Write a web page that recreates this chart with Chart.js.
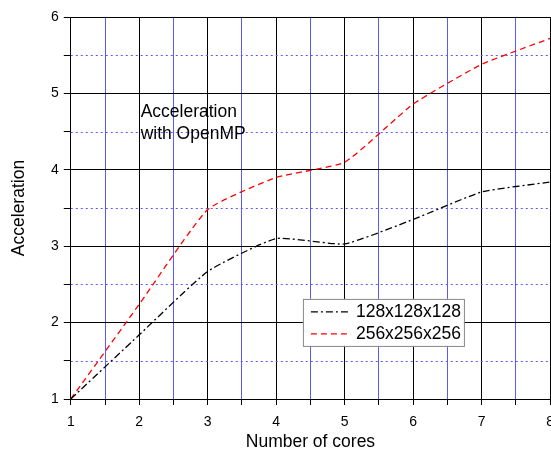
<!DOCTYPE html>
<html>
<head>
<meta charset="utf-8">
<script src="https://cdn.jsdelivr.net/npm/chart.js@4.4.1/dist/chart.umd.min.js"></script>
<style>
  html, body { margin: 0; padding: 0; background: #fff; overflow: hidden; }
  #chart { display: block; }
</style>
</head>
<body>
<canvas id="chart" width="563" height="455"></canvas>
<script>
// Data
const cores = [1, 2, 3, 4, 5, 6, 7, 8];
const accel128 = [1.0, 1.84, 2.67, 3.10, 3.03, 3.35, 3.71, 3.84];
const accel256 = [1.0, 2.24, 3.48, 3.90, 4.10, 4.86, 5.38, 5.72];
const seriesLabels = ['128x128x128', '256x256x256'];
const noteLines = ['Acceleration', 'with OpenMP'];

const FONT = "'Liberation Sans', Arial, sans-serif";
const BLUE = '#5a5aff';

// Dotted horizontal half-unit lines and the text note
const extrasPlugin = {
    id: 'extras',
    beforeDatasetsDraw(chart) {
        const { ctx, chartArea, scales } = chart;
        ctx.save();
        ctx.strokeStyle = BLUE;
        ctx.lineWidth = 1;
        ctx.setLineDash([2, 3]);
        for (let v = 1.5; v < 6; v += 1) {
            const y = Math.round(scales.y.getPixelForValue(v)) + 0.5;
            ctx.beginPath();
            ctx.moveTo(chartArea.left, y);
            ctx.lineTo(chartArea.right, y);
            ctx.stroke();
        }
        ctx.restore();
    },
    afterDatasetsDraw(chart) {
        const { ctx, scales } = chart;
        ctx.save();
        ctx.font = '17.5px ' + FONT;
        ctx.fillStyle = '#000';
        ctx.textBaseline = 'middle';
        const x = scales.x.getPixelForValue(2.02);
        const y0 = scales.y.getPixelForValue(4.75);
        noteLines.forEach((t, i) => ctx.fillText(t, x, y0 + i * 22));
        ctx.restore();
    }
};

// Boxed legend inside the plot
const legendBoxPlugin = {
    id: 'legendBox',
    afterDatasetsDraw(chart) {
        const { ctx, scales } = chart;
        const left = scales.x.getPixelForValue(4.39);
        const top = scales.y.getPixelForValue(2.31);
        const w = 161, h = 47;
        ctx.save();
        ctx.fillStyle = '#fff';
        ctx.fillRect(left, top, w, h);
        ctx.strokeStyle = '#888';
        ctx.lineWidth = 1;
        ctx.setLineDash([]);
        ctx.strokeRect(left + 0.5, top + 0.5, w, h);
        ctx.font = '17.5px ' + FONT;
        ctx.textBaseline = 'middle';
        chart.data.datasets.forEach((ds, i) => {
            const y = top + 13 + i * 22;
            ctx.strokeStyle = ds.borderColor;
            ctx.lineWidth = 1.3;
            ctx.setLineDash(ds.borderDash);
            ctx.beginPath();
            ctx.moveTo(left + 8, y);
            ctx.lineTo(left + 47, y);
            ctx.stroke();
            ctx.fillStyle = '#000';
            ctx.fillText(ds.label, left + 53, y);
        });
        ctx.restore();
    }
};

const isMajor = v => Math.abs(v - Math.round(v)) < 1e-6;

new Chart(document.getElementById('chart'), {
    type: 'line',
    data: {
        datasets: [
            {
                label: seriesLabels[0],
                data: cores.map((c, i) => ({ x: c, y: accel128[i] })),
                borderColor: '#000000',
                borderWidth: 1.3,
                borderDash: [7, 3, 2, 3],
                pointRadius: 0,
                tension: 0.15,
                fill: false
            },
            {
                label: seriesLabels[1],
                data: cores.map((c, i) => ({ x: c, y: accel256[i] })),
                borderColor: '#ff0000',
                borderWidth: 1.3,
                borderDash: [6, 4],
                pointRadius: 0,
                tension: 0.15,
                fill: false
            }
        ]
    },
    options: {
        responsive: false,
        animation: false,
        layout: { padding: { top: 17, left: 9, bottom: 4, right: 0 } },
        plugins: {
            legend: { display: false },
            tooltip: { enabled: false }
        },
        scales: {
            x: {
                type: 'linear',
                min: 1, max: 8,
                afterFit: scale => { scale.height = 52; },
                grid: {
                    color: ctx => isMajor(ctx.tick.value) ? '#000' : BLUE,
                    lineWidth: 1,
                    tickColor: '#000',
                    tickLength: 6
                },
                border: { color: '#000', width: 1 },
                ticks: {
                    stepSize: 0.5,
                    color: '#000',
                    font: { family: FONT, size: 14 },
                    padding: 9,
                    maxRotation: 0,
                    autoSkip: false,
                    callback: v => isMajor(v) ? String(v) : ''
                },
                title: {
                    display: true,
                    text: 'Number of cores',
                    color: '#000',
                    font: { family: FONT, size: 17.5, lineHeight: 1.0 },
                    padding: { top: 0, bottom: 0 }
                }
            },
            y: {
                min: 1, max: 6,
                grid: {
                    color: ctx => isMajor(ctx.tick.value) ? '#000' : 'rgba(0,0,0,0)',
                    lineWidth: 1,
                    tickColor: '#000',
                    tickLength: 7
                },
                border: { color: '#000', width: 1 },
                ticks: {
                    stepSize: 0.5,
                    color: '#000',
                    font: { family: FONT, size: 14 },
                    padding: 5,
                    autoSkip: false,
                    callback: v => isMajor(v) ? String(v) : ''
                },
                title: {
                    display: true,
                    text: 'Acceleration',
                    color: '#000',
                    font: { family: FONT, size: 17.5 },
                    padding: { top: 0, bottom: 16 }
                }
            }
        }
    },
    plugins: [extrasPlugin, legendBoxPlugin]
});
</script>
</body>
</html>
